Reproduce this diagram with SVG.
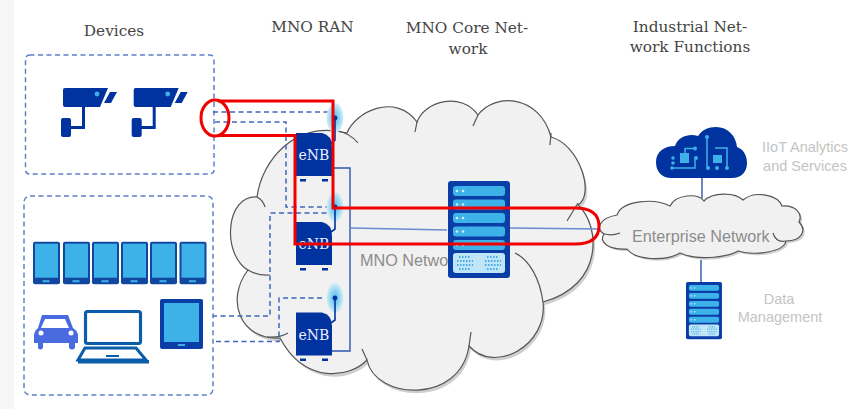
<svg xmlns="http://www.w3.org/2000/svg" width="863" height="409" viewBox="0 0 863 409">
<style>
.head{font-family:"DejaVu Serif","Liberation Serif",serif;font-size:15.3px;fill:#444;text-anchor:middle}
.gray{font-family:"Liberation Sans",Arial,sans-serif;font-size:14.5px;fill:#c4c4c4;text-anchor:middle}
.net{font-family:"Liberation Sans",Arial,sans-serif;font-size:16.2px;fill:#8c8c8c}
.enb{font-family:"DejaVu Serif","Liberation Serif",serif;font-size:14px;fill:#eef;text-anchor:middle}
.dash{fill:none;stroke:#3f66bd;stroke-width:1.5;stroke-dasharray:5 3.5}
.box{fill:#fff;stroke:#5f80c6;stroke-width:1.5;stroke-dasharray:5 3.5}
.solid{fill:none;stroke:#2f56b0;stroke-width:1.4}
.light{fill:none;stroke:#6a8bcf;stroke-width:1.4}
.cloud{fill:#f1f1f1;stroke:#555;stroke-width:1.2}
.shadow{fill:#cfcfcf}
.stub{fill:none;stroke:#555;stroke-width:1.2}
.red{fill:none;stroke:#f00000;stroke-width:3}
.navy{fill:#0033a0}
.sky{fill:#3db2e8}
</style>
<defs>
<radialGradient id="glow"><stop offset="0" stop-color="#4dbbea"/><stop offset="0.6" stop-color="#9edaf2"/><stop offset="1" stop-color="#d6eef8"/></radialGradient>
<path id="core-shape" d="M257,197C262,160 295,120 347,133C355,112 395,92 417,122C425,100 462,92 478,115C495,92 540,95 551,137C580,145 595,195 578,205C600,225 605,285 543,302C548,345 495,375 469,346C460,405 375,400 367,360C350,378 305,385 280,338C240,340 225,300 248,270C222,255 225,195 257,197Z"/>
<path id="ent-shape" d="M617,215C622,200 655,198 670,206C676,194 698,193 704,201C712,192 735,192 743,200C755,190 778,195 782,206C796,205 803,214 799,222C807,230 802,241 786,241C784,252 755,256 738,251C730,256 700,262 680,253C665,262 635,260 627,249C610,250 598,243 604,234C595,228 600,218 617,215Z"/>
<g id="camera">
<path class="navy" d="M65,88H108L100,107H65Q63,107 63,105V90Q63,88 65,88Z"/>
<path class="navy" d="M104,103L110,92H117L111,103Z"/>
<circle class="sky" cx="97" cy="94" r="2.4"/>
<path class="navy" d="M82,106H85V129H70V126H82Z"/>
<rect class="navy" x="61" y="118" width="10" height="19" rx="2"/>
</g>
<g id="phone">
<rect x="0" y="0" width="27" height="42.5" rx="2" style="fill:#12479f"/>
<rect x="2" y="2" width="23" height="34" class="sky"/>
<rect x="9.5" y="38.500" width="7" height="2" class="sky"/>
</g>
<g id="enbbox">
<path class="navy" d="M0,0H26Q36,2 36,14V43H0Z"/>
<rect class="navy" x="4" y="46" width="6" height="2.5"/>
<rect class="navy" x="26" y="46" width="6" height="2.5"/>
<text class="enb" x="18" y="27">eNB</text>
</g>
<g id="antenna">
<ellipse cx="0" cy="0" rx="8.5" ry="15" fill="url(#glow)"/>
<circle cx="0" cy="0" r="2.4" fill="#0033a0"/>
<path d="M0,0V22L-4,25" fill="none" stroke="#0033a0" stroke-width="1.6"/>
</g>
<g id="server">
<rect x="0" y="0" width="62" height="97" rx="3" fill="#0b3da6"/>
<g class="sky">
<rect x="5" y="5" width="52" height="10" rx="3"/>
<rect x="5" y="18.500" width="52" height="10" rx="3"/>
<rect x="5" y="32" width="52" height="10" rx="3"/>
<rect x="5" y="45.500" width="52" height="10" rx="3"/>
<rect x="5" y="59" width="52" height="10" rx="3"/>
</g>
<g fill="#cfeefb">
<circle cx="9" cy="10" r="1.300"/><circle cx="15" cy="10" r="1.300"/>
<circle cx="9" cy="23.500" r="1.300"/><circle cx="15" cy="23.500" r="1.300"/>
<circle cx="9" cy="37" r="1.300"/><circle cx="15" cy="37" r="1.300"/>
<circle cx="9" cy="50.500" r="1.300"/><circle cx="15" cy="50.500" r="1.300"/>
<circle cx="9" cy="64" r="1.300"/><circle cx="15" cy="64" r="1.300"/>
</g>
<rect x="5" y="72" width="52" height="20" rx="3" fill="#bfe6f8"/>
<path d="M11,76H23M9,80H25M9,84H25M11,88H23M39,76H51M37,80H53M37,84H53M39,88H51" stroke="#4aa8e4" stroke-width="2" stroke-dasharray="1.500 1.500" fill="none"/>
</g>
</defs>

<rect width="863" height="409" fill="#fff"/>
<rect width="14" height="409" fill="#f6f6f6"/>

<g id="cloud-core">
<use href="#core-shape" class="shadow" x="2" y="3"/>
<use href="#core-shape" class="cloud"/>
<path class="stub" d="M257,197Q263,200 265,207"/>
<path class="stub" d="M335,130Q350,133 358,143"/>
<path class="stub" d="M417,122L415,132"/>
<path class="stub" d="M478,115L473,126"/>
<path class="stub" d="M551,133L550,145"/>
<path class="stub" d="M578,203L567,221"/>
<path class="stub" d="M515,253C530,260 540,280 543,302"/>
<path class="stub" d="M469,346L471,332"/>
<path class="stub" d="M367,360L362,349"/>
<path class="stub" d="M267,337Q280,338 288,333"/>
<path class="stub" d="M248,270Q258,276 270,275"/>
</g>

<g id="cloud-enterprise">
<use href="#ent-shape" class="shadow" x="2" y="2"/>
<use href="#ent-shape" class="cloud"/>
<path class="stub" d="M604,234Q612,236 620,233"/>
<path class="stub" d="M786,241Q776,243 773,233"/>
</g>

<g id="connectors">
<path class="solid" d="M702,178V198M701,260V282"/>
<path class="solid" d="M332,168H350V351H331"/>
<path class="light" d="M351,228L447,230M510,228L600,229"/>
</g>

<text class="net" x="360" y="266">MNO Network</text>
<text class="net" x="632" y="242">Enterprise Network</text>

<g id="device-box-cameras">
<rect class="box" x="25.500" y="55" width="188.500" height="119" rx="4"/>
<use href="#camera"/>
<use href="#camera" x="70.700"/>
</g>

<g id="device-box-terminals">
<rect class="box" x="24" y="196" width="189" height="199" rx="6"/>
<use href="#phone" x="33" y="241.700"/>
<use href="#phone" x="63" y="241.700"/>
<use href="#phone" x="92" y="241.700"/>
<use href="#phone" x="121" y="241.700"/>
<use href="#phone" x="150" y="241.700"/>
<use href="#phone" x="179.500" y="241.700"/>
<rect x="160" y="299" width="43" height="50" rx="2" fill="#0b3da6"/>
<rect x="164" y="303" width="35" height="39" class="sky"/>
<rect x="178" y="344" width="7" height="2" class="sky"/>
<path fill="#4a6be0" d="M42,315H68L73,328Q78,331 78,336V343H75V348Q72,351 69,348V343H43V348Q40,351 38,348V343H34V336Q34,331 38,328Z"/>
<path fill="#fff" d="M45,319H65L69,328H41Z"/>
<circle cx="41" cy="333" r="2.500" fill="#fff"/><circle cx="71" cy="333" r="2.500" fill="#fff"/>
<rect x="85.500" y="311.500" width="55" height="32" rx="2" fill="#fff" stroke="#0b5cab" stroke-width="3.200"/>
<path d="M85,348H136L146,360H78Z" fill="#fff" stroke="#0b5cab" stroke-width="3"/>
<rect x="78" y="360" width="71" height="3.500" fill="#0b5cab"/>
<rect x="106" y="355" width="13" height="2" fill="#0b5cab"/>
</g>

<g id="connectors-dashed">
<path class="dash" d="M213,112H333"/>
<path class="dash" d="M215,122H286V207H333"/>
<path class="dash" d="M335,213H270V316H213"/>
<path class="dash" d="M322,298H279V341.500H214"/>
</g>

<g id="enb-1"><use href="#antenna" x="335" y="118"/><use href="#enbbox" x="296" y="133"/></g>
<g id="enb-2"><use href="#antenna" x="335" y="207"/><use href="#enbbox" x="296" y="222"/></g>
<g id="enb-3"><use href="#antenna" x="335" y="298"/><use href="#enbbox" x="296" y="312.500"/></g>

<g id="mno-core-server"><use href="#server" x="448" y="181"/></g>

<g id="iiot-cloud">
<path fill="#0033a0" d="M672,178C660,178 656,170 656,162C656,152 664,146 675,146C678,136 690,133 698,136C702,130 708,127 716,127C728,127 736,136 737,147C743,149 747,155 747,163C747,172 741,178 732,178Z"/>
<g fill="none" stroke="#3db2e8" stroke-width="1.500">
<path d="M685,153V148.500H695M672,168H695V159M707,137V167M715,148H727V168"/>
</g>
<g class="sky">
<rect x="680" y="153" width="9" height="10"/><rect x="713" y="155" width="9" height="8"/>
<circle cx="673" cy="158" r="1.800"/><circle cx="673" cy="163" r="1.800"/><circle cx="672" cy="168" r="1.800"/><circle cx="696" cy="158" r="2"/><circle cx="695" cy="148.500" r="2"/>
<circle cx="707" cy="137" r="2"/><circle cx="708" cy="168" r="2"/><circle cx="717" cy="168" r="2"/><circle cx="727" cy="168" r="2"/>
</g>
</g>

<g id="data-server"><use href="#server" transform="translate(686,282) scale(0.58,0.59)"/></g>

<g id="red-highlight">
<path class="red" d="M218,101H333V208H575Q599,208 599,226Q599,244 575,244H295V135.500H218"/>
<ellipse class="red" cx="215" cy="118" rx="14" ry="18"/>
</g>

<g id="labels">
<text class="head" x="114" y="36">Devices</text>
<text class="head" x="312.500" y="32">MNO RAN</text>
<text class="head" x="467" y="33">MNO Core Net-</text>
<text class="head" x="468" y="54">work</text>
<text class="head" x="690" y="32">Industrial Net-</text>
<text class="head" x="690" y="52">work Functions</text>
<text class="gray" x="805" y="152">IIoT Analytics</text>
<text class="gray" x="805" y="171">and Services</text>
<text class="gray" x="779" y="304">Data</text>
<text class="gray" x="780" y="322">Management</text>
</g>
</svg>
